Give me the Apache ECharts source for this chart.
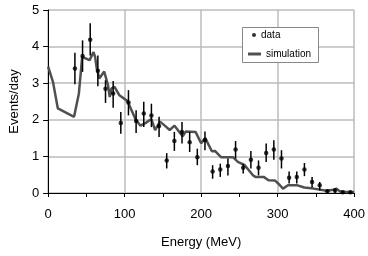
<!DOCTYPE html>
<html>
<head>
<meta charset="utf-8">
<script src="https://cdn.jsdelivr.net/npm/echarts@6/dist/echarts.min.js"></script>
<style>
html, body { margin: 0; padding: 0; background: #fff; }
#main { width: 368px; height: 256px; }
</style>
</head>
<body>
<div id="main"></div>
<script>
// measured points (MeV, events/day) and the ends of their error bars
var energies = [35, 45, 55, 65, 75, 85, 95, 105, 115, 125, 135, 145, 155, 165, 175, 185, 195, 205,
	215, 225, 235, 245, 255, 265, 275, 285, 295, 305, 315, 325, 335, 345, 355, 365, 375, 385, 395];
var dataValues = [3.40, 3.74, 4.19, 3.34, 2.85, 2.72, 1.91, 2.47, 1.97, 2.17, 2.12, 1.83, 0.89, 1.42, 1.67, 1.39, 0.98, 1.45,
	0.59, 0.64, 0.74, 1.19, 0.69, 0.91, 0.69, 1.09, 1.19, 0.94, 0.42, 0.44, 0.64, 0.30, 0.21, 0.05, 0.07, 0.02, 0.02];
var errLow = [2.97, 3.31, 3.76, 2.92, 2.46, 2.33, 1.62, 2.12, 1.64, 1.80, 1.80, 1.53, 0.67, 1.15, 1.35, 1.12, 0.76, 1.17,
	0.39, 0.44, 0.48, 0.94, 0.53, 0.67, 0.48, 0.85, 0.91, 0.67, 0.26, 0.26, 0.46, 0.16, 0.07, 0.00, 0.00, 0.00, 0.00];
var errHigh = [3.83, 4.17, 4.64, 3.76, 3.08, 3.06, 2.21, 2.81, 2.26, 2.49, 2.44, 2.08, 1.09, 1.67, 1.94, 1.67, 1.21, 1.68,
	0.76, 0.80, 0.94, 1.42, 0.80, 1.15, 0.89, 1.35, 1.44, 1.17, 0.59, 0.59, 0.82, 0.44, 0.30, 0.10, 0.12, 0.05, 0.05];

// simulation curve
var simEnergy = [0, 6.4, 12.7, 33.9, 40.2, 44.5, 46.5, 54.2, 59.3, 61.4, 63.6, 66.9, 73.3, 78.3, 80.5, 82.6, 86.8, 93.2,
	103.8, 114.4, 120.7, 127.1, 135, 139.8, 146.2, 152.5, 158.9, 165.2, 175.8, 180, 192.7, 200, 205.4, 214, 218,
	226, 241.5, 248, 257, 268, 271, 281.7, 288, 296.6, 301.6, 307, 313.5, 326, 334.7, 347, 364, 372.8, 377, 381, 389.8, 400];
var simValues = [3.45, 3.03, 2.31, 2.08, 2.72, 3.72, 3.67, 3.63, 3.85, 3.72, 3.40, 3.13, 3.32, 2.94, 2.62, 2.85, 2.90, 2.67,
	2.51, 2.01, 1.84, 1.91, 2.02, 1.72, 1.95, 1.84, 1.72, 1.84, 1.55, 1.68, 1.67, 1.36, 1.50, 1.14, 1.15,
	0.98, 0.98, 0.85, 0.76, 0.48, 0.44, 0.44, 0.35, 0.34, 0.24, 0.12, 0.21, 0.21, 0.15, 0.12, 0.06, 0.09, 0.12, 0.05, 0.03, 0.03];

var xTicks = [0, 400, 100];
var yTicks = [0, 5, 1];

var FONT = "'Liberation Sans', Arial, sans-serif";

var points = energies.map(function(e, i) { return [e, dataValues[i]]; });
var bars = energies.map(function(e, i) { return [e, errLow[i], errHigh[i]]; });
var sim = simEnergy.map(function(e, i) { return [e, simValues[i]]; });

var legendText = { fontSize: 10, color: '#000', fontFamily: FONT };

var chart = echarts.init(document.getElementById('main'));
chart.setOption({
	animation: false,
	textStyle: { fontFamily: FONT },
	grid: { left: 47, right: 7, top: 10, bottom: 63 },
	graphic: [{
		// legend frame
		type: 'rect',
		shape: { x: 242.5, y: 27.5, width: 76, height: 35 },
		style: { fill: '#fff', stroke: '#888', lineWidth: 1 },
		z: 90
	}],
	legend: [{
			left: 252,
			top: 30,
			padding: 0,
			itemWidth: 4,
			itemHeight: 4,
			icon: 'circle',
			textStyle: legendText,
			data: ['data'],
			z: 100
		},
		{
			left: 248,
			top: 49,
			padding: 0,
			itemWidth: 13,
			itemHeight: 3,
			symbolKeepAspect: false,
			textStyle: legendText,
			data: [{ name: 'simulation', icon: 'rect', itemStyle: { color: '#505050' } }],
			z: 100
		}
	],
	xAxis: {
		type: 'value',
		min: xTicks[0],
		max: xTicks[1],
		interval: xTicks[2],
		name: 'Energy (MeV)',
		nameLocation: 'middle',
		nameGap: 43,
		nameTextStyle: { fontSize: 13, color: '#000' },
		axisLine: { lineStyle: { color: '#000', width: 1 } },
		axisTick: { length: 4, lineStyle: { color: '#000' } },
		minorTick: { show: true, splitNumber: 2, length: 4, lineStyle: { color: '#000' } },
		axisLabel: { fontSize: 13, color: '#000', margin: 15 },
		splitLine: { lineStyle: { color: '#bdbdbd', width: 1.5 } }
	},
	yAxis: {
		type: 'value',
		min: yTicks[0],
		max: yTicks[1],
		interval: yTicks[2],
		name: 'Events/day',
		nameLocation: 'middle',
		nameGap: 24,
		nameTextStyle: { fontSize: 13, color: '#000' },
		axisLine: { show: true, lineStyle: { color: '#000', width: 1 } },
		axisTick: { show: true, length: 5, lineStyle: { color: '#000' } },
		axisLabel: { fontSize: 13, color: '#000', margin: 9 },
		splitLine: { lineStyle: { color: '#bdbdbd', width: 1.5 } }
	},
	series: [{
			name: 'simulation',
			type: 'line',
			data: sim,
			symbol: 'none',
			lineStyle: { color: '#505050', width: 2.5 },
			itemStyle: { color: '#505050' },
			z: 2
		},
		{
			type: 'custom',
			data: bars,
			renderItem: function(params, api) {
				var lo = api.coord([api.value(0), api.value(1)]);
				var hi = api.coord([api.value(0), api.value(2)]);
				return {
					type: 'line',
					shape: { x1: lo[0], y1: lo[1], x2: hi[0], y2: hi[1] },
					style: { stroke: '#000', lineWidth: 1.5 }
				};
			},
			z: 3
		},
		{
			name: 'data',
			type: 'scatter',
			data: points,
			symbol: 'circle',
			symbolSize: 4.5,
			itemStyle: { color: '#000' },
			z: 4
		}
	]
});
</script>
</body>
</html>
